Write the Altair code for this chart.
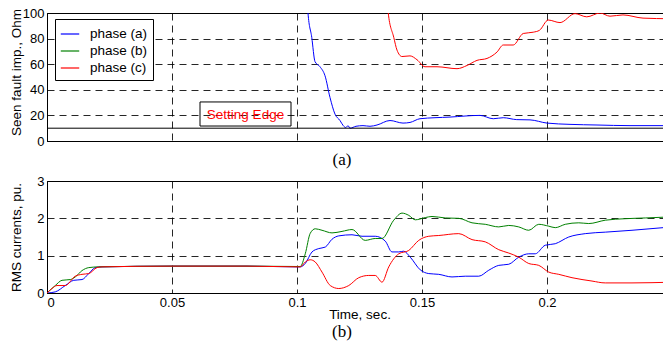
import altair as alt
import pandas as pd

FONT = "Liberation Sans"
SERIF = "Liberation Serif"

PHASES = ["phase (a)", "phase (b)", "phase (c)"]
COLORS = ["#0000ff", "#008000", "#ff0000"]
X_TICKS = [0, 0.05, 0.1, 0.15, 0.2]
X_DOMAIN = [0, 0.25]

# ---- panel (a): seen fault impedance (Ohm) ----
IMP_TICKS = [0, 20, 40, 60, 80, 100]
T_IMP_A = [0.1040, 0.1044, 0.1059, 0.1072, 0.1092, 0.1112, 0.1132, 0.1152, 0.1172,
           0.1185, 0.1195, 0.1204, 0.1212, 0.1236, 0.1264, 0.1292, 0.1320, 0.1372,
           0.1424, 0.1452, 0.1492, 0.1612, 0.1732, 0.1785, 0.1825, 0.1879, 0.1932,
           0.2000, 0.2092, 0.2200, 0.2332, 0.2496]
IMP_A = [130, 100, 81, 62, 58, 51, 34, 21, 16,
         12, 10.5, 12, 10, 11.5, 12, 11.5, 12.5, 16,
         14, 14.5, 17.4, 18.7, 20, 17.4, 18.2, 16.7, 16.5,
         14, 13, 12.5, 12, 12]
T_IMP_C = [0.1352, 0.1365, 0.1387, 0.1400, 0.1420, 0.1452, 0.1480, 0.1512, 0.1560,
           0.1640, 0.1680, 0.1720, 0.1760, 0.1800, 0.1825, 0.1865, 0.1905, 0.1945,
           0.1970, 0.2005, 0.2052, 0.2112, 0.2159, 0.2212, 0.2252, 0.2304, 0.2384,
           0.2492]
IMP_C = [130, 100, 81, 71, 66, 66.5, 63.5, 58, 58,
         56.5, 59, 63, 64.5, 69.5, 75, 75, 84, 85,
         86.5, 94.5, 92.5, 99.5, 97, 100, 97.5, 98.5, 96,
         95.5]
SETTING = [10]
BOX_T = [0.0612, 0.0976]
BOX_Z = [11.7, 30.5]
LABEL_T = [0.0794]
LABEL_Z = [20]
LABEL_TEXT = ["Setting Edge"]

# ---- panel (b): RMS currents (pu) ----
CUR_TICKS = [0, 1, 2, 3]
T_CUR_A = [0, 0.0033, 0.0073, 0.0107, 0.0140, 0.0167, 0.0193, 0.0220, 0.05, 0.08,
           0.1000, 0.1013, 0.1033, 0.1060, 0.1087, 0.1113, 0.1140, 0.1167, 0.1220,
           0.1260, 0.1313, 0.1353, 0.1380, 0.1407, 0.1427, 0.1453, 0.1493, 0.1527,
           0.1567, 0.1620, 0.1673, 0.1727, 0.1767, 0.1807, 0.1847, 0.1887, 0.1927,
           0.1953, 0.1993, 0.2033, 0.2087, 0.2153, 0.2233, 0.2340, 0.2500]
CUR_A = [0, 0.03, 0.2, 0.34, 0.36, 0.52, 0.68, 0.70, 0.72, 0.72,
         0.70, 0.70, 0.79, 1.10, 1.19, 1.23, 1.44, 1.53, 1.56,
         1.52, 1.52, 1.39, 1.10, 1.10, 1.12, 0.96, 0.62, 0.52,
         0.50, 0.43, 0.45, 0.45, 0.61, 0.74, 0.77, 0.96, 1.05,
         1.05, 1.28, 1.32, 1.50, 1.59, 1.63, 1.68, 1.77]
T_CUR_B = [0, 0.0033, 0.0060, 0.0093, 0.0113, 0.0140, 0.0167, 0.0207, 0.05, 0.08,
           0.1000, 0.1013, 0.1033, 0.1053, 0.1073, 0.1100, 0.1140, 0.1180, 0.1220,
           0.1273, 0.1313, 0.1340, 0.1387, 0.1420, 0.1447, 0.1473, 0.1513, 0.1540,
           0.1593, 0.1647, 0.1700, 0.1753, 0.1807, 0.1847, 0.1887, 0.1927, 0.1967,
           0.2007, 0.2033, 0.2073, 0.2127, 0.2167, 0.2233, 0.2313, 0.2393, 0.2500]
CUR_B = [0, 0.2, 0.34, 0.36, 0.43, 0.6, 0.68, 0.70, 0.72, 0.72,
         0.71, 0.71, 1.05, 1.60, 1.72, 1.68, 1.61, 1.65, 1.70,
         1.41, 1.46, 1.46, 1.95, 2.14, 2.08, 1.96, 2.02, 2.05,
         2.01, 2.00, 1.88, 1.84, 1.77, 1.81, 1.77, 1.68, 1.84,
         1.79, 1.75, 1.84, 1.88, 1.86, 1.95, 1.99, 2.01, 2.04]
T_CUR_C = [0, 0.0020, 0.0040, 0.0073, 0.0113, 0.0140, 0.0167, 0.0200, 0.0220, 0.05,
           0.08, 0.1000, 0.1013, 0.1033, 0.1053, 0.1073, 0.1100, 0.1133, 0.1167,
           0.1207, 0.1247, 0.1287, 0.1313, 0.1340, 0.1367, 0.1407, 0.1447, 0.1487,
           0.1527, 0.1567, 0.1647, 0.1700, 0.1753, 0.1807, 0.1847, 0.1887, 0.1927,
           0.1967, 0.2007, 0.2047, 0.2100, 0.2180, 0.2233, 0.2340, 0.2500]
CUR_C = [0, 0.12, 0.2, 0.2, 0.45, 0.50, 0.52, 0.68, 0.70, 0.72,
         0.72, 0.70, 0.70, 0.83, 0.89, 0.83, 0.56, 0.20, 0.12,
         0.20, 0.41, 0.47, 0.47, 0.29, 0.70, 1.05, 1.14, 1.41,
         1.52, 1.54, 1.59, 1.43, 1.37, 1.16, 1.07, 0.96, 0.79,
         0.74, 0.56, 0.50, 0.41, 0.32, 0.27, 0.27, 0.29]

CAPTION_T = [0.118]

W, H1, H2 = 625, 128, 112


def frame(ts, vs, name):
    return pd.DataFrame({"t": ts, "v": vs, "phase": name})


top_df = pd.concat([frame(T_IMP_A, IMP_A, PHASES[0]), frame(T_IMP_C, IMP_C, PHASES[2])])
bot_df = pd.concat([frame(T_CUR_A, CUR_A, PHASES[0]), frame(T_CUR_B, CUR_B, PHASES[1]),
                    frame(T_CUR_C, CUR_C, PHASES[2])])

xscale = alt.Scale(domain=X_DOMAIN, nice=False, zero=False)

x_top = alt.X("t:Q", scale=xscale,
              axis=alt.Axis(values=X_TICKS, labels=False, title=None, grid=True))
y_top = alt.Y("v:Q", scale=alt.Scale(domain=[0, 100], nice=False),
              axis=alt.Axis(values=IMP_TICKS, title="Seen fault imp., Ohm", grid=True,
                            titleX=-24, titleY=59))
x_bot = alt.X("t:Q", scale=xscale,
              axis=alt.Axis(values=X_TICKS, format="~g", title="Time, sec.", grid=True,
                            titleY=14, titleBaseline="top"))
y_bot = alt.Y("v:Q", scale=alt.Scale(domain=[0, 3], nice=False),
              axis=alt.Axis(values=CUR_TICKS, title="RMS currents, pu.", grid=True,
                            titleX=-24))

color_top = alt.Color(
    "phase:N",
    scale=alt.Scale(domain=PHASES, range=COLORS),
    legend=alt.Legend(title=None, orient="none", legendX=8, legendY=6,
                      fillColor="white", strokeColor="black", padding=5,
                      symbolType="stroke", symbolSize=340, symbolStrokeWidth=1.2,
                      labelFont=FONT, labelFontSize=13.5, labelOffset=10, rowPadding=0),
)
color_bot = alt.Color("phase:N", scale=alt.Scale(domain=PHASES, range=COLORS), legend=None)

lines_top = alt.Chart(top_df).mark_line(clip=True, strokeWidth=1, interpolate="monotone").encode(
    x=x_top, y=y_top, color=color_top)
rule_top = alt.Chart(pd.DataFrame({"v": SETTING})).mark_rule(color="black", strokeWidth=1).encode(
    y=y_top)
box_top = alt.Chart(pd.DataFrame({"t": [BOX_T[0]], "t2": [BOX_T[1]],
                                  "v": [BOX_Z[1]], "v2": [BOX_Z[0]]})).mark_rect(
    fillOpacity=0, stroke="black", strokeWidth=1).encode(x=x_top, x2="t2", y=y_top, y2="v2")
text_top = alt.Chart(pd.DataFrame({"t": LABEL_T, "v": LABEL_Z, "label": LABEL_TEXT})).mark_text(
    color="red", font=FONT, fontSize=13.5).encode(x=x_top, y=y_top, text="label")
cap_top = alt.Chart(pd.DataFrame({"t": CAPTION_T, "label": ["(a)"]})).mark_text(
    font=SERIF, fontSize=17, color="black", baseline="middle").encode(
    x=x_top, y=alt.value(H1 + 19), text="label")

top = alt.layer(lines_top, rule_top, box_top, text_top, cap_top).properties(width=W, height=H1)

lines_bot = alt.Chart(bot_df).mark_line(clip=True, strokeWidth=1, interpolate="monotone").encode(
    x=x_bot, y=y_bot, color=color_bot)
cap_bot = alt.Chart(pd.DataFrame({"t": CAPTION_T, "label": ["(b)"]})).mark_text(
    font=SERIF, fontSize=17, color="black", baseline="middle").encode(
    x=x_bot, y=alt.value(H2 + 39), text="label")

bottom = alt.layer(lines_bot, cap_bot).properties(width=W, height=H2)

chart = alt.vconcat(top, bottom, spacing=40, bounds="flush").resolve_scale(
    color="independent").resolve_legend(color="independent").properties(
    padding={"left": 0, "top": -2, "right": -10, "bottom": 0}, background="white"
).configure_view(stroke="black", strokeWidth=1).configure_axis(
    labelFont=FONT, titleFont=FONT, labelFontSize=13, titleFontSize=13.5,
    titleFontWeight="normal", labelColor="black", titleColor="black",
    domainColor="black", gridColor="black", gridDash=[7, 5], gridOpacity=0.85,
    gridWidth=1, ticks=False, labelPadding=3)

chart.save("out.html", embed_options={"renderer": "svg", "actions": False})
